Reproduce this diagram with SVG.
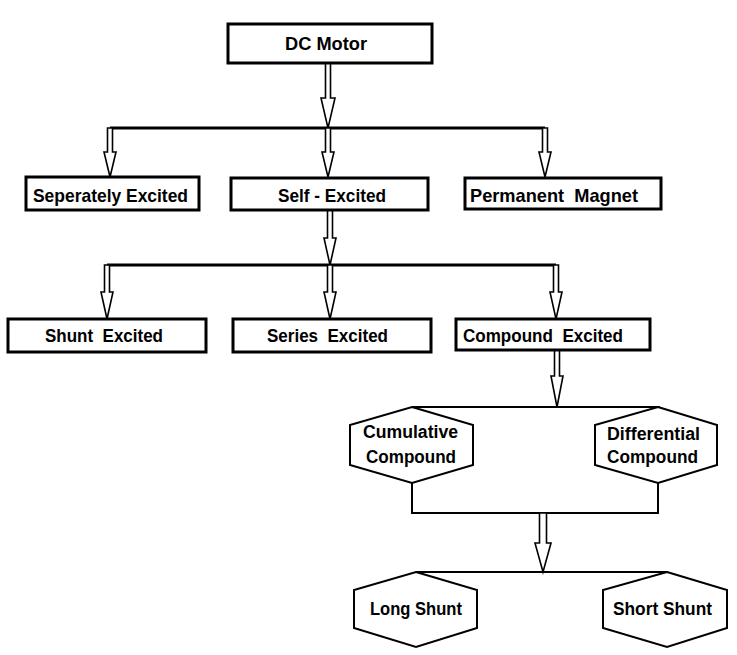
<svg xmlns="http://www.w3.org/2000/svg" width="737" height="655" viewBox="0 0 737 655">
<style>
.box{fill:#fff;stroke:#000;stroke-width:3}
.hex{fill:#fff;stroke:#000;stroke-width:2}
.bus{fill:none;stroke:#000;stroke-width:3}
.bus2{fill:none;stroke:#000;stroke-width:2}
.arr{fill:#fff;stroke:#000;stroke-width:1.6;stroke-linejoin:miter}
text{font-family:"Liberation Sans",Arial,sans-serif;font-weight:bold;fill:#000;font-size:18.5px;white-space:pre}
.h{font-size:17.5px}
</style>
<rect width="737" height="655" fill="#fff"/>
<g id="connectors">
  <path class="bus" d="M110 128H545"/>
  <path class="bus" d="M107 265H556"/>
  <path class="bus2" d="M412 407H660"/>
  <path class="bus2" d="M412 483V513H658V483"/>
  <path class="bus2" d="M416 572H667"/>
  <path class="arr" d="M325.5 63V98H321L328 128L335 98H330.5V63Z"/>
  <path class="arr" d="M107.5 128V152H104L110 177L116 152H112.5V128Z"/>
  <path class="arr" d="M325.5 128V152H322L328 177L334 152H330.5V128Z"/>
  <path class="arr" d="M542.5 128V152H539L545 177L551 152H547.5V128Z"/>
  <path class="arr" d="M327.5 210V238H324L330 265L336 238H332.5V210Z"/>
  <path class="arr" d="M104.5 265V292H101L107 319L113 292H109.5V265Z"/>
  <path class="arr" d="M327.5 265V292H324L330 319L336 292H332.5V265Z"/>
  <path class="arr" d="M553.5 265V292H550L556 319L562 292H558.5V265Z"/>
  <path class="arr" d="M554.5 350V376H551L557 407L563 376H559.5V350Z"/>
  <path class="arr" d="M539.5 513V543H535L543 572L551 543H546.5V513Z"/>
</g>
<g id="dc-motor">
  <rect class="box" x="228" y="24" width="204" height="39"/>
  <text x="285" y="50" font-size="19" textLength="82" lengthAdjust="spacingAndGlyphs">DC Motor</text>
</g>
<g id="seperately-excited">
  <rect class="box" x="26" y="177" width="173" height="33"/>
  <text x="33" y="202" textLength="155" lengthAdjust="spacingAndGlyphs">Seperately Excited</text>
</g>
<g id="self-excited">
  <rect class="box" x="231" y="178" width="197" height="32"/>
  <text x="278" y="202" textLength="108" lengthAdjust="spacingAndGlyphs">Self - Excited</text>
</g>
<g id="permanent-magnet">
  <rect class="box" x="465" y="178" width="196" height="31"/>
  <text x="470" y="202" textLength="168" lengthAdjust="spacingAndGlyphs">Permanent  Magnet</text>
</g>
<g id="shunt-excited">
  <rect class="box" x="8" y="319" width="198" height="33"/>
  <text x="45" y="342" textLength="118" lengthAdjust="spacingAndGlyphs">Shunt  Excited</text>
</g>
<g id="series-excited">
  <rect class="box" x="233" y="319" width="198" height="33"/>
  <text x="267" y="342" textLength="121" lengthAdjust="spacingAndGlyphs">Series  Excited</text>
</g>
<g id="compound-excited">
  <rect class="box" x="456" y="319" width="194" height="31"/>
  <text x="463" y="342" textLength="160" lengthAdjust="spacingAndGlyphs">Compound  Excited</text>
</g>
<g id="cumulative-compound">
  <polygon class="hex" points="412,407 473,425 473,465 412,483 350,465 350,425"/>
  <text class="h" x="363" y="438" textLength="95" lengthAdjust="spacingAndGlyphs">Cumulative</text>
  <text class="h" x="366" y="463" textLength="90" lengthAdjust="spacingAndGlyphs">Compound</text>
</g>
<g id="differential-compound">
  <polygon class="hex" points="658,407 717,425 717,465 658,483 595,465 595,425"/>
  <text class="h" x="607" y="440" textLength="93" lengthAdjust="spacingAndGlyphs">Differential</text>
  <text class="h" x="607" y="463" textLength="91" lengthAdjust="spacingAndGlyphs">Compound</text>
</g>
<g id="long-shunt">
  <polygon class="hex" points="416,572 477,590 477,628 416,647 354,628 354,590"/>
  <text class="h" x="370" y="615" textLength="92" lengthAdjust="spacingAndGlyphs">Long Shunt</text>
</g>
<g id="short-shunt">
  <polygon class="hex" points="667,572 727,590 727,628 667,647 603,628 603,590"/>
  <text class="h" x="613" y="615" textLength="99" lengthAdjust="spacingAndGlyphs">Short Shunt</text>
</g>
</svg>
